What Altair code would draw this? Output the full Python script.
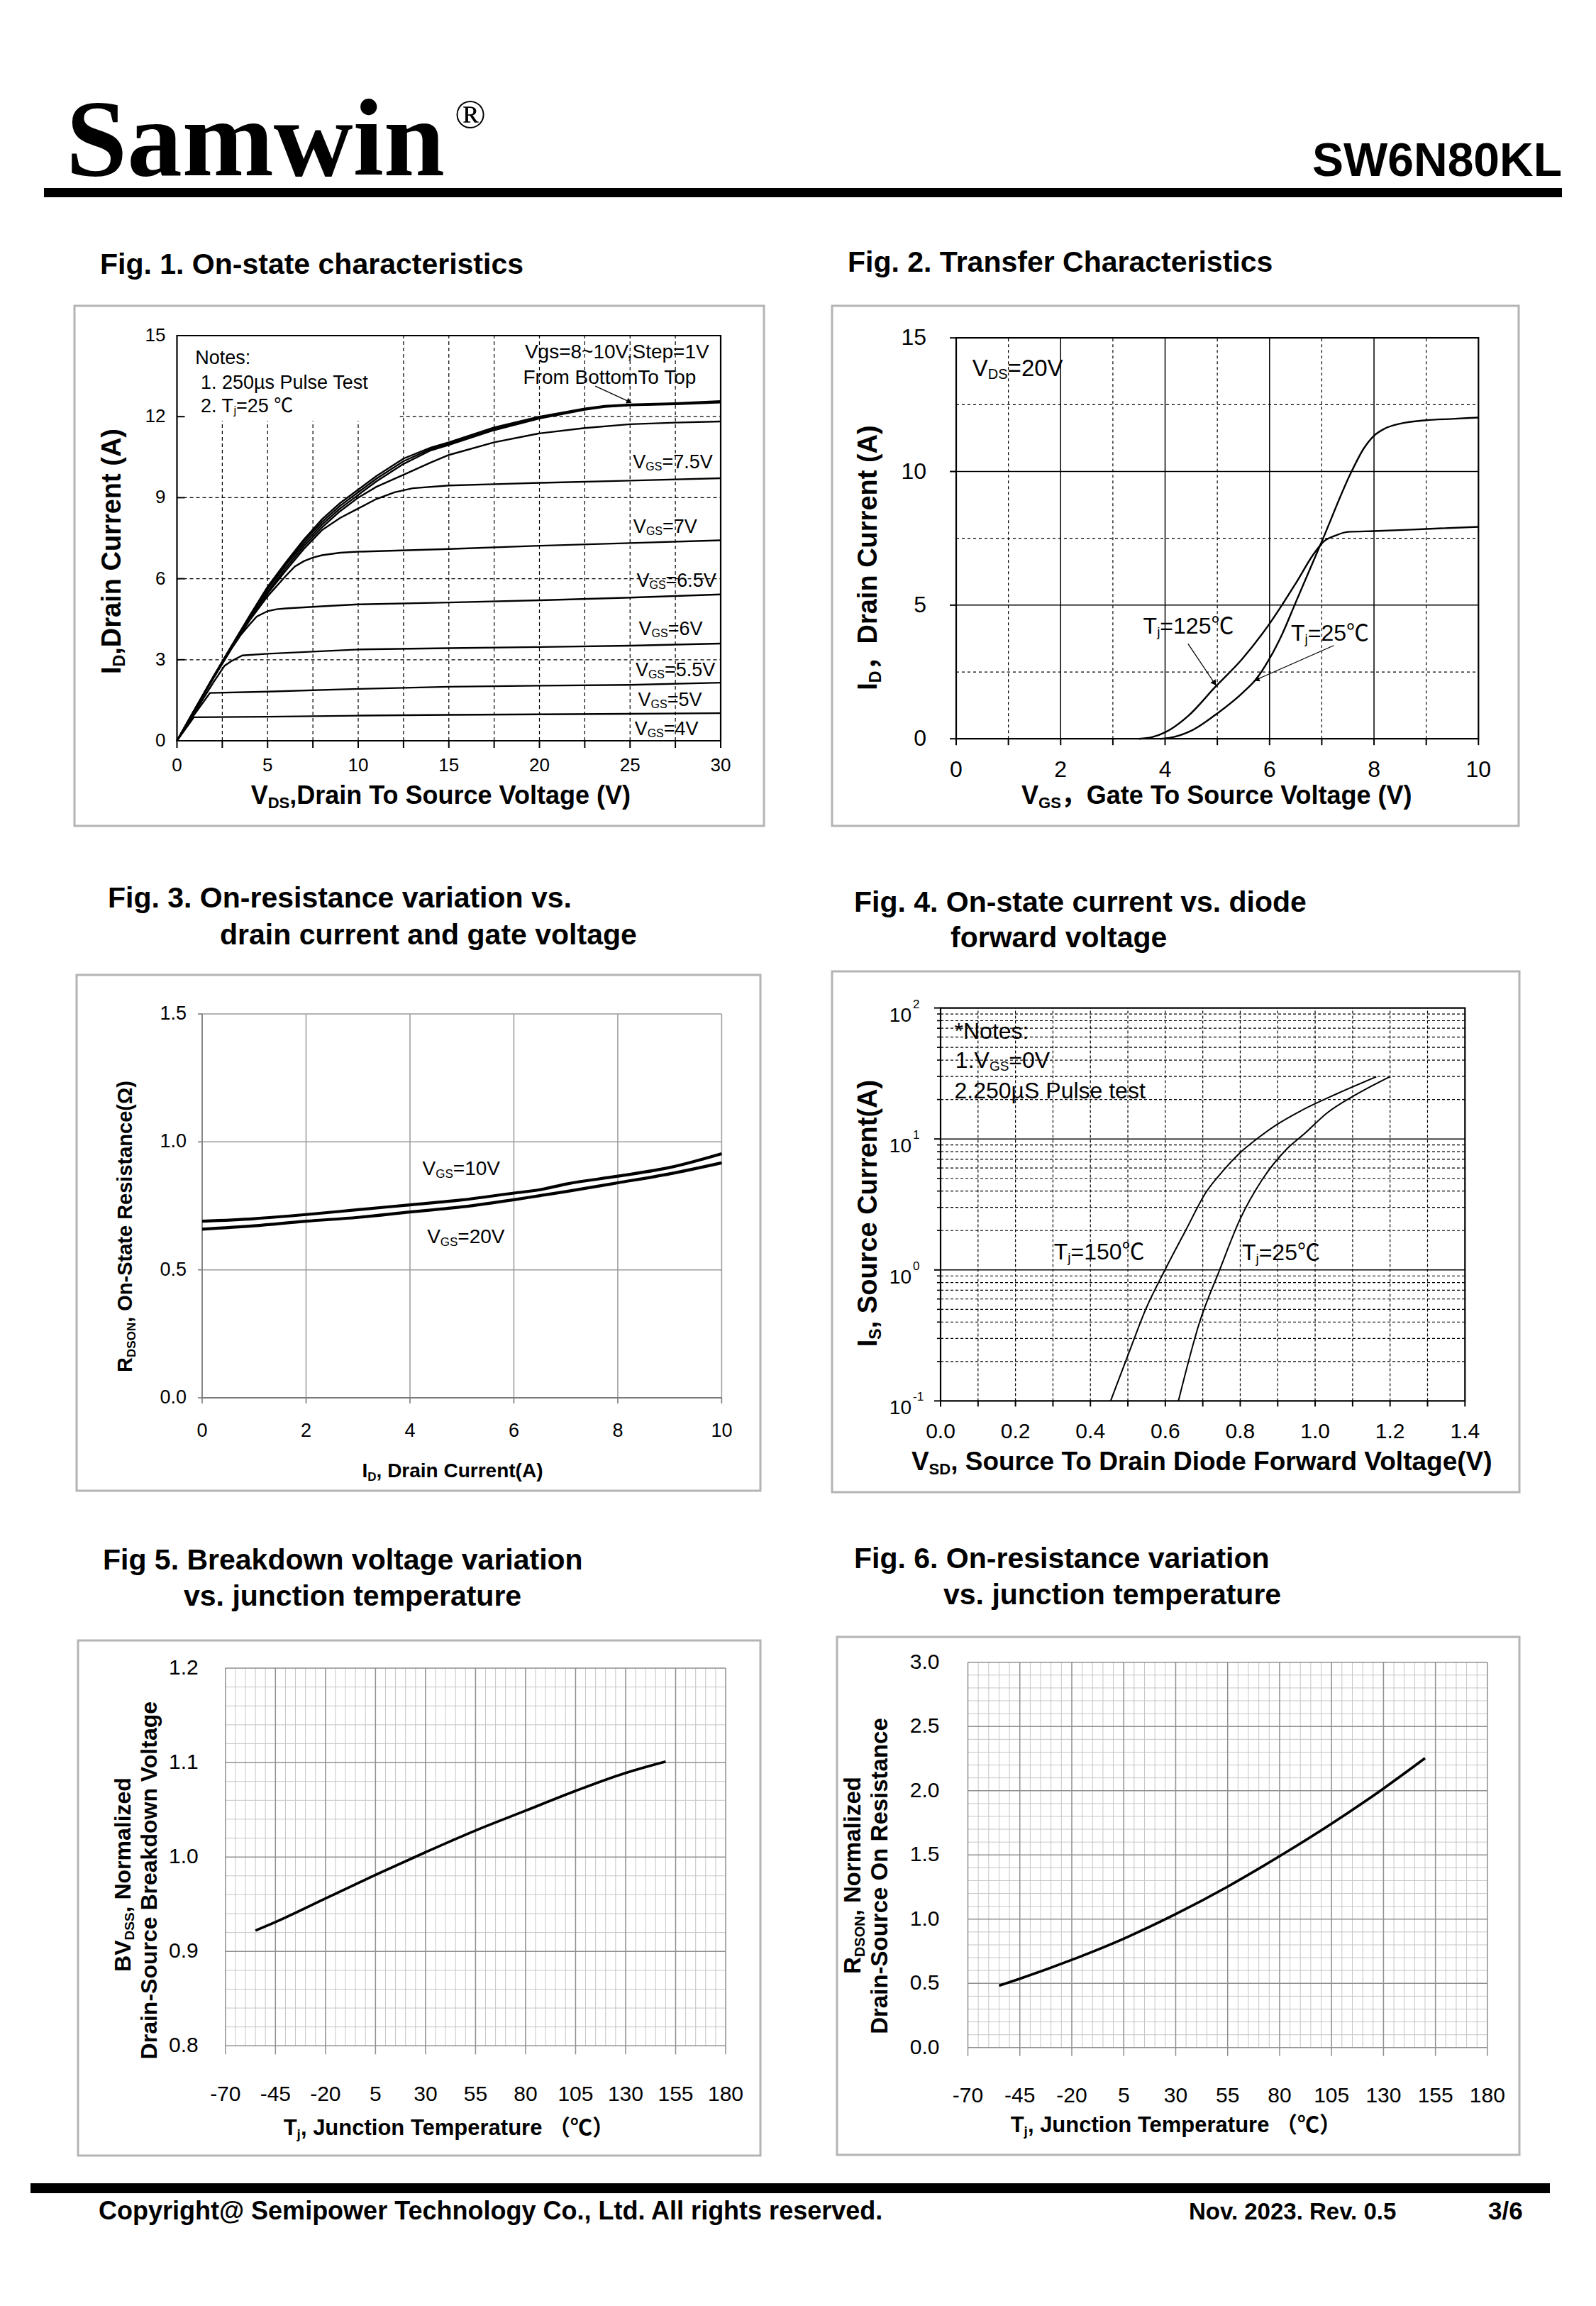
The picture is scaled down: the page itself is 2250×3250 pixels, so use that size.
import math
import altair as alt
import pandas as pd

W, H, M = 2234, 3234, 8
SANS = "Liberation Sans, Arial, Noto Sans CJK SC, sans-serif"
SERIF = "Liberation Serif, Times New Roman, serif"

# ---------------------------------------------------------------- data
# Fig.1  ID (A) vs VDS (V) for each VGS
F1_X_10 = [0, 1, 2, 3, 4, 5, 6, 7, 8, 9, 10, 11, 12.5, 14, 15, 17.5, 20, 22.5, 23.6, 25, 27.5, 30]
F1_Y_10 = [0, 1.18, 2.36, 3.5, 4.62, 5.7, 6.6, 7.45, 8.2, 8.8, 9.3, 9.8, 10.45, 10.85, 11.05, 11.6, 12.0, 12.3, 12.4, 12.45, 12.5, 12.58]
F1_Y_9 = [0, 1.18, 2.36, 3.5, 4.6, 5.65, 6.55, 7.4, 8.1, 8.7, 9.2, 9.7, 10.35, 10.8, 11.0, 11.55, 11.97, 12.28, 12.38, 12.43, 12.48, 12.55]
F1_Y_8 = [0, 1.18, 2.35, 3.48, 4.56, 5.6, 6.5, 7.3, 8.0, 8.6, 9.1, 9.6, 10.25, 10.75, 10.95, 11.5, 11.93, 12.25, 12.36, 12.42, 12.46, 12.52]
F1_X_75 = [0, 1, 2, 3, 4, 5, 6, 7, 8, 9, 10, 11, 12.5, 14, 15, 17.5, 20, 22.5, 25, 27.5, 30]
F1_Y_75 = [0, 1.18, 2.35, 3.47, 4.52, 5.5, 6.4, 7.2, 7.9, 8.5, 9.0, 9.4, 9.85, 10.3, 10.58, 11.05, 11.38, 11.58, 11.72, 11.78, 11.82]
F1_X_7 = [0, 1, 2, 3, 4, 5, 6, 7, 8, 9, 10, 11, 12, 13, 15, 17.5, 20, 25, 30]
F1_Y_7 = [0, 1.18, 2.34, 3.45, 4.5, 5.45, 6.3, 7.1, 7.8, 8.25, 8.6, 8.95, 9.2, 9.35, 9.45, 9.5, 9.55, 9.63, 9.72]
F1_X_65 = [0, 1, 2, 3, 4, 5, 6, 6.5, 7, 7.5, 8, 9, 10, 15, 20, 25, 30]
F1_Y_65 = [0, 1.18, 2.33, 3.42, 4.45, 5.35, 6.1, 6.45, 6.65, 6.78, 6.87, 6.96, 7.0, 7.1, 7.22, 7.32, 7.42]
F1_X_6 = [0, 1, 2, 3, 3.5, 4, 4.4, 5, 5.5, 6, 8, 10, 15, 20, 25, 30]
F1_Y_6 = [0, 1.15, 2.3, 3.4, 3.9, 4.3, 4.6, 4.8, 4.87, 4.9, 4.98, 5.05, 5.12, 5.2, 5.3, 5.42]
F1_X_55 = [0, 1, 2, 2.63, 3.0, 3.61, 5, 10, 15, 20, 25, 30]
F1_Y_55 = [0, 1.08, 2.15, 2.78, 2.95, 3.16, 3.22, 3.38, 3.43, 3.47, 3.52, 3.6]
F1_X_5 = [0, 0.9, 1.82, 5, 10, 15, 20, 25, 30]
F1_Y_5 = [0, 0.92, 1.77, 1.82, 1.92, 2.0, 2.04, 2.07, 2.15]
F1_X_4 = [0, 0.93, 5, 10, 15, 20, 25, 30]
F1_Y_4 = [0, 0.87, 0.89, 0.93, 0.96, 0.98, 1.0, 1.02]
F1_XTICKS = [0, 2.5, 5, 7.5, 10, 12.5, 15, 17.5, 20, 22.5, 25, 27.5, 30]
F1_XLABELS = [0, 5, 10, 15, 20, 25, 30]
F1_YLABELS = [0, 3, 6, 9, 12, 15]

# Fig.2  ID (A) vs VGS (V)
F2_X_25 = [3.9, 4.1, 4.5, 5.0, 5.5, 5.75, 6.0, 6.25, 6.5, 7.0, 7.57, 7.8, 8.0, 8.2, 8.5, 9.0, 9.5, 10.0]
F2_Y_25 = [0, 0.04, 0.3, 0.95, 1.75, 2.25, 3.0, 3.95, 5.1, 7.38, 10.0, 10.85, 11.34, 11.6, 11.79, 11.92, 11.97, 12.02]
F2_X_125 = [3.5, 3.75, 4.0, 4.44, 4.96, 5.47, 6.03, 6.5, 6.84, 7.02, 7.27, 7.5, 8.0, 9.0, 10.0]
F2_Y_125 = [0, 0.06, 0.24, 0.85, 1.94, 2.97, 4.39, 5.81, 6.9, 7.35, 7.61, 7.74, 7.77, 7.85, 7.93]
F2_XTICKS = [0, 1, 2, 3, 4, 5, 6, 7, 8, 9, 10]
F2_XLABELS = [0, 2, 4, 6, 8, 10]
F2_YLABELS = [0, 5, 10, 15]

# Fig.3  RDS(on) vs ID
F3_ID = [0, 1, 2, 3, 4, 5, 6, 6.5, 7, 8, 9, 10]
F3_R_10V = [0.690, 0.700, 0.716, 0.735, 0.754, 0.773, 0.800, 0.813, 0.835, 0.866, 0.900, 0.954]
F3_R_20V = [0.659, 0.672, 0.690, 0.705, 0.726, 0.746, 0.774, 0.790, 0.806, 0.840, 0.875, 0.918]
F3_XLABELS = [0, 2, 4, 6, 8, 10]
F3_YLABELS = [0.0, 0.5, 1.0, 1.5]

# Fig.4  IS (A) vs VSD (V), log scale
F4_X_150 = [0.454, 0.5, 0.548, 0.599, 0.655, 0.709, 0.757, 0.805, 0.852, 0.9, 0.96, 1.056, 1.163]
F4_Y_150 = [0.1, 0.222, 0.503, 1.0, 2.02, 3.93, 5.83, 8.1, 10.4, 13.0, 16.3, 22.0, 29.8]
F4_X_25 = [0.635, 0.691, 0.745, 0.799, 0.858, 0.924, 0.972, 1.032, 1.104, 1.199]
F4_Y_25 = [0.1, 0.395, 1.0, 2.42, 4.86, 8.37, 11.0, 15.8, 21.4, 29.8]
F4_XTICKS = [round(0.1 * i, 1) for i in range(15)]
F4_XLABELS = [round(0.2 * i, 1) for i in range(8)]
F4_YDECADES = [0.1, 1, 10, 100]
F4_YEXPONENTS = ["-1", "0", "1", "2"]
F4_YMINOR = [round(m * d, 3) for d in (0.1, 1, 10) for m in range(2, 10)]

# Fig.5 / Fig.6  vs junction temperature
F56_TJ = [-55, -45, -20, 5, 30, 55, 80, 105, 130, 150]
F5_BV = [0.922, 0.931, 0.956, 0.981, 1.005, 1.028, 1.049, 1.070, 1.089, 1.101]
F6_RDS = [0.482, 0.536, 0.683, 0.848, 1.039, 1.253, 1.490, 1.743, 2.017, 2.253]
F56_XTICKS = list(range(-70, 181, 25))
F56_XMINOR = [v for v in range(-65, 180, 5) if (v + 70) % 25 != 0]
F5_YTICKS = [0.8, 0.9, 1.0, 1.1, 1.2]
F5_YMINOR = [round(0.8 + 0.02 * i, 2) for i in range(1, 20) if i % 5 != 0]
F6_YTICKS = [0.0, 0.5, 1.0, 1.5, 2.0, 2.5, 3.0]
F6_YMINOR = [round(0.1 * i, 1) for i in range(1, 30) if i % 5 != 0]

# ---------------------------------------------------------------- text metrics
_R, _B = {}, {}


def _set(tab, chars, w):
    for c in chars:
        tab[c] = w


_set(_R, "ijl", .222); _set(_R, " !,./:;I[]ft", .278); _set(_R, "r-()", .333); _set(_R, "*", .389)
_set(_R, "cksvxyzJ", .5); _set(_R, "0123456789abdeghnopqu$L?µ_", .556); _set(_R, "=+~<>", .584)
_set(_R, "FTZ", .611); _set(_R, "ABEKPSVXY&", .667); _set(_R, "CDHNRUw", .722); _set(_R, "GOQ", .778)
_set(_R, "mM", .833); _set(_R, "%", .889); _set(_R, "W", .944); _set(_R, "@", 1.015); _set(_R, "Ω", .768)
_set(_B, " ,./Iijl[]", .278); _set(_B, "!:;ft-()", .333); _set(_B, "r*", .389); _set(_B, "z", .5)
_set(_B, "0123456789acekvsxyJ$?µ_", .556); _set(_B, "=+~<>", .584); _set(_B, "bdghnopquFTZL", .611)
_set(_B, "EPSVXY", .667); _set(_B, "ABKCDHNRU", .722); _set(_B, "GOQw", .778); _set(_B, "m", .889)
_set(_B, "M", .833); _set(_B, "W", .944); _set(_B, "@", .975); _set(_B, "Ω", .768)
WIDE = "℃，（）"


def tw(t, size, bold):
    tab = _B if bold else _R
    return size * sum(1.0 if c in WIDE else tab.get(c, .556) for c in t)


ONE = pd.DataFrame({"k": [0]})


def _segs(data, enc, segs, align="left", angle=0, font=SANS):
    ws = [tw(t, s, b) for t, s, b, dy in segs]
    total = sum(ws)
    cur = {"left": 0.0, "center": -total / 2, "right": -total}[align]
    out = []
    for (t, s, b, dy), w in zip(segs, ws):
        props = dict(text=t, font=font, fontSize=s, fontWeight="bold" if b else "normal",
                     align="left", baseline="alphabetic", color="black")
        if abs(cur) > 0.01:
            props["dx"] = round(cur, 2)
        if dy:
            props["dy"] = dy
        if angle:
            props["angle"] = angle
        out.append(alt.Chart(data).mark_text(**props).encode(**enc))
        cur += w
    return out


def page_text(x, y, segs, align="left", angle=0, font=SANS):
    return _segs(ONE, dict(x=alt.value(x - M), y=alt.value(y - M)), segs, align, angle, font)


def page_rect(x0, y0, x1, y1, **props):
    return alt.Chart(ONE).mark_rect(**props).encode(
        x=alt.value(x0 - M), x2=alt.value(x1 - M), y=alt.value(y0 - M), y2=alt.value(y1 - M))


class Panel:
    def __init__(self, xdom, x0, x1, ydom, y0, y1, ylog=False):
        self.sx = alt.Scale(domain=xdom, range=[x0 - M, x1 - M], nice=False, zero=False)
        if ylog:
            self.sy = alt.Scale(type="log", domain=ydom, range=[y0 - M, y1 - M], nice=False)
            self.ky = None
        else:
            self.sy = alt.Scale(domain=ydom, range=[y0 - M, y1 - M], nice=False, zero=False)
            self.ky = (y0 - y1) / (ydom[1] - ydom[0])
        self.kx = (x1 - x0) / (xdom[1] - xdom[0])
        self.layers = []

    def X(self, f):
        return alt.X(f + ":Q", scale=self.sx, axis=None)

    def Y(self, f):
        return alt.Y(f + ":Q", scale=self.sy, axis=None)

    def vr(self, xs, ya, yb, color="black", w=1.2, dash=None):
        d = pd.DataFrame({"x": xs, "ya": ya, "yb": yb})
        p = dict(color=color, strokeWidth=w)
        if dash:
            p["strokeDash"] = dash
        self.layers.append(alt.Chart(d).mark_rule(**p).encode(
            x=self.X("x"), y=self.Y("ya"), y2=alt.Y2("yb")))

    def hr(self, ys, xa, xb, color="black", w=1.2, dash=None):
        d = pd.DataFrame({"y": ys, "xa": xa, "xb": xb})
        p = dict(color=color, strokeWidth=w)
        if dash:
            p["strokeDash"] = dash
        self.layers.append(alt.Chart(d).mark_rule(**p).encode(
            y=self.Y("y"), x=self.X("xa"), x2=alt.X2("xb")))

    def frame(self, xa, xb, ya, yb, w=2.0):
        d = pd.DataFrame({"xa": [xa], "xb": [xb], "ya": [ya], "yb": [yb]})
        self.layers.append(alt.Chart(d).mark_rect(fillOpacity=0, stroke="black", strokeWidth=w).encode(
            x=self.X("xa"), x2=alt.X2("xb"), y=self.Y("ya"), y2=alt.Y2("yb")))

    def ticks_x(self, values, base, length, color="black", w=1.6):
        d = pd.DataFrame({"x": values, "y": base})
        self.layers.append(alt.Chart(d).mark_tick(
            orient="vertical", size=length, thickness=w, color=color, opacity=1,
            yOffset=length / 2).encode(x=self.X("x"), y=self.Y("y")))

    def ticks_y(self, values, base, length, color="black", w=1.6, inward=False):
        d = pd.DataFrame({"y": values, "x": base})
        self.layers.append(alt.Chart(d).mark_tick(
            orient="horizontal", size=length, thickness=w, color=color, opacity=1,
            xOffset=(length / 2 if inward else -length / 2)).encode(x=self.X("x"), y=self.Y("y")))

    def labels_x(self, values, labels, base, pad, size):
        d = pd.DataFrame({"x": values, "y": base, "t": labels})
        self.layers.append(alt.Chart(d).mark_text(
            align="center", baseline="top", dy=pad, fontSize=size, font=SANS, color="black").encode(
            x=self.X("x"), y=self.Y("y"), text=alt.Text("t:N")))

    def labels_y(self, values, labels, base, pad, size):
        d = pd.DataFrame({"y": values, "x": base, "t": labels})
        self.layers.append(alt.Chart(d).mark_text(
            align="right", baseline="middle", dx=-pad, fontSize=size, font=SANS, color="black").encode(
            x=self.X("x"), y=self.Y("y"), text=alt.Text("t:N")))

    def curves(self, series, w, interp="linear"):
        rows = []
        for name, xs, ys in series:
            for i, (a, b) in enumerate(zip(xs, ys)):
                rows.append({"s": name, "x": a, "y": b, "o": i})
        d = pd.DataFrame(rows)
        self.layers.append(alt.Chart(d).mark_line(color="black", strokeWidth=w, interpolate=interp).encode(
            x=self.X("x"), y=self.Y("y"), detail="s:N", order="o:Q"))

    def text(self, x, y, segs, align="left"):
        d = pd.DataFrame({"x": [x], "y": [y]})
        self.layers += _segs(d, dict(x=self.X("x"), y=self.Y("y")), segs, align)

    def arrow(self, x0, y0, x1, y1, w=1.4, size=90):
        d = pd.DataFrame({"x": [x0], "y": [y0], "x2": [x1], "y2": [y1]})
        self.layers.append(alt.Chart(d).mark_rule(color="black", strokeWidth=w).encode(
            x=self.X("x"), y=self.Y("y"), x2=alt.X2("x2"), y2=alt.Y2("y2")))
        dxp, dyp = (x1 - x0) * self.kx, -(y1 - y0) * self.ky
        n = math.hypot(dxp, dyp)
        ang = math.degrees(math.atan2(dxp, -dyp)) % 360
        back = math.sqrt(size) * 0.35
        hx = x1 - dxp / n * back / self.kx
        hy = y1 + dyp / n * back / self.ky
        h = pd.DataFrame({"x": [hx], "y": [hy]})
        self.layers.append(alt.Chart(h).mark_point(shape="triangle-up", filled=True, color="black",
                                                   opacity=1, size=size, angle=round(ang, 1)).encode(
            x=self.X("x"), y=self.Y("y")))

    def chart(self):
        return alt.layer(*self.layers)


def sub(main, s, size, bold=False, tail="", ssize=None, dy=None):
    ss = ssize or round(size * 0.6)
    d = dy if dy is not None else round(size * 0.17)
    segs = [(main, size, bold, 0), (s, ss, bold, d)]
    if tail:
        segs.append((tail, size, bold, 0))
    return segs


def fmt1(vals):
    return ["%.1f" % v for v in vals]


def fmt0(vals):
    return ["%d" % v for v in vals]


layers = []

# ---------------------------------------------------------------- page furniture
BOX = dict(fillOpacity=0, stroke="#b4b4b4", strokeWidth=3)
for bx in [(105, 431, 1077, 1164), (1173, 431, 2141, 1164), (108, 1374, 1072, 2101),
           (1173, 1369, 2142, 2103), (110, 2312, 1072, 3038), (1180, 2307, 2142, 3037)]:
    layers.append(page_rect(*bx, **BOX))
layers.append(page_rect(62, 265, 2202, 278, color="black"))
layers.append(page_rect(43, 3077, 2185, 3091, color="black"))

layers += page_text(93, 247, [("Samwin", 155, True, 0)], font=SERIF)
layers += page_text(641, 180, [("®", 58, False, 0)], font=SERIF)
layers += page_text(2202, 248, [("SW6N80KL", 66, True, 0)], align="right")

layers += page_text(139, 3128, [("Copyright@ Semipower Technology Co., Ltd. All rights reserved.", 36, True, 0)])
layers += page_text(1676, 3128, [("Nov. 2023. Rev. 0.5", 33, True, 0)])
layers += page_text(2098, 3128, [("3/6", 35, True, 0)])

TF = 41
for x, y, t in [(141, 386, "Fig. 1. On-state characteristics"),
                (1195, 383, "Fig. 2. Transfer Characteristics"),
                (152, 1279, "Fig. 3. On-resistance variation vs."),
                (310, 1331, "drain current and gate voltage"),
                (1204, 1285, "Fig. 4. On-state current vs. diode"),
                (1340, 1335, "forward voltage"),
                (145, 2212, "Fig 5. Breakdown voltage variation"),
                (259, 2263, "vs. junction temperature"),
                (1204, 2210, "Fig. 6. On-resistance variation"),
                (1330, 2261, "vs. junction temperature")]:
    layers += page_text(x, y, [(t, TF, True, 0)])

# axis titles
layers += page_text(170, 777, sub("I", "D", 38, True, ",Drain Current (A)"), "center", 270)
layers += page_text(624, 1133, sub("V", "DS", 36, True, ",Drain To Source Voltage (V)"), "center")
layers += page_text(1236, 786, sub("I", "D", 38, True, "，Drain Current (A)"), "center", 270)
layers += page_text(1718, 1133, sub("V", "GS", 36, True, "，Gate To Source Voltage (V)"), "center")
layers += page_text(186, 1729, sub("R", "DSON", 29, True, ", On-State Resistance(Ω)"), "center", 270)
layers += page_text(638, 2082, sub("I", "D", 28, True, ", Drain Current(A)"), "center")
layers += page_text(1236, 1710, sub("I", "S", 38, True, ", Source Current(A)"), "center", 270)
layers += page_text(1697, 2072, sub("V", "SD", 37, True, ", Source To Drain Diode Forward Voltage(V)"), "center")
layers += page_text(184, 2642, sub("BV", "DSS", 32, True, ", Normalized"), "center", 270)
layers += page_text(221, 2649, [("Drain-Source Breakdown Voltage", 32, True, 0)], "center", 270)
layers += page_text(634, 3009, sub("T", "j", 31, True, ", Junction Temperature （℃）"), "center")
layers += page_text(1213, 2643, sub("R", "DSON", 33, True, ", Normalized"), "center", 270)
layers += page_text(1251, 2644, [("Drain-Source On Resistance", 33, True, 0)], "center", 270)
layers += page_text(1659, 3005, sub("T", "j", 31, True, ", Junction Temperature （℃）"), "center")

# ---------------------------------------------------------------- Fig.1
p1 = Panel([0, 30], 249.5, 1016, [0, 15], 1044, 473)
DASH = [5, 4]
p1.vr([12.5, 15, 17.5, 20, 22.5, 25, 27.5], 0, 15, dash=DASH)
p1.vr([2.5, 5, 7.5, 10], 0, 11.85, dash=DASH)
p1.hr([3, 6, 9], 0, 30, dash=DASH)
p1.hr([12], 12.3, 30, dash=DASH)
p1.ticks_y([3, 6, 9, 12], 0, 11, w=2, inward=True)
p1.ticks_x(F1_XTICKS, 0, 10, w=2)
p1.frame(0, 30, 0, 15, w=2.2)
p1.labels_x(F1_XLABELS, fmt0(F1_XLABELS), 0, 22, 26)
p1.labels_y(F1_YLABELS, fmt0(F1_YLABELS), 0, 16, 26)
p1.curves([("4", F1_X_4, F1_Y_4), ("5", F1_X_5, F1_Y_5), ("55", F1_X_55, F1_Y_55),
           ("6", F1_X_6, F1_Y_6), ("65", F1_X_65, F1_Y_65), ("7", F1_X_7, F1_Y_7),
           ("75", F1_X_75, F1_Y_75), ("8", F1_X_10, F1_Y_8), ("9", F1_X_10, F1_Y_9),
           ("10", F1_X_10, F1_Y_10)], 2.4)
for lab, x, y in [("=7.5V", 29.56, 10.08), ("=7V", 28.7, 7.70), ("=6.5V", 29.76, 5.71),
                  ("=6V", 29.0, 3.91), ("=5.5V", 29.7, 2.40), ("=5V", 28.96, 1.30), ("=4V", 28.77, 0.22)]:
    p1.text(x, y, sub("V", "GS", 27, False, lab, 16, 3), "right")
p1.text(29.46, 14.15, [("Vgs=8~10V,Step=1V", 28, False, 0)], "right")
p1.text(19.1, 13.22, [("From BottomTo Top", 28, False, 0)])
p1.text(1.01, 13.96, [("Notes:", 27, False, 0)])
p1.text(1.31, 13.04, [("1. 250µs  Pulse Test", 27, False, 0)])
p1.text(1.31, 12.15, sub("2. T", "j", 27, False, "=25 ℃", 16, 3))
p1.arrow(23.08, 13.13, 25.06, 12.52, w=1.3, size=70)
layers.append(p1.chart())

# ---------------------------------------------------------------- Fig.2
p2 = Panel([0, 10], 1348, 2084.3, [0, 15], 1041.2, 476.2)
p2.vr([2, 4, 6, 8], 0, 15, w=1.5)
p2.vr([1, 3, 5, 7, 9], 0, 15, dash=[4, 4])
p2.hr([5, 10], 0, 10, w=1.5)
p2.hr([2.5, 7.5, 12.5], 0, 10, dash=[4, 4])
p2.ticks_x(F2_XTICKS, 0, 9, w=2)
p2.ticks_y(F2_YLABELS, 0, 9, w=2)
p2.frame(0, 10, 0, 15, w=2.2)
p2.labels_x(F2_XLABELS, fmt0(F2_XLABELS), 0, 29, 32)
p2.labels_y(F2_YLABELS, fmt0(F2_YLABELS), 0, 42, 32)
p2.curves([("25", F2_X_25, F2_Y_25), ("125", F2_X_125, F2_Y_125)], 2.4, interp="monotone")
p2.text(0.31, 13.56, sub("V", "DS", 33, False, "=20V", 20, 4))
p2.text(3.58, 3.94, sub("T", "j", 32, False, "=125℃", 19, 4))
p2.text(6.41, 3.68, sub("T", "j", 32, False, "=25℃", 19, 4))
p2.arrow(4.44, 3.55, 4.97, 2.01, w=1.3, size=80)
p2.arrow(7.23, 3.49, 5.71, 2.18, w=1.3, size=80)
layers.append(p2.chart())

# ---------------------------------------------------------------- Fig.3
p3 = Panel([0, 10], 285, 1017.4, [0, 1.5], 1970, 1429)
GR, AX = "#9a9a9a", "#7a7a7a"
p3.vr([2, 4, 6, 8, 10], 0, 1.5, color=GR, w=1.5)
p3.hr([0.5, 1.0, 1.5], 0, 10, color=GR, w=1.5)
p3.vr([0], 0, 1.5, color=AX, w=1.8)
p3.hr([0], 0, 10, color=AX, w=1.8)
p3.ticks_x(F3_XLABELS, 0, 8, color=AX, w=1.6)
p3.ticks_y(F3_YLABELS, 0, 6, color=AX, w=1.6)
p3.labels_x(F3_XLABELS, fmt0(F3_XLABELS), 0, 34, 27)
p3.labels_y(F3_YLABELS, fmt1(F3_YLABELS), 0, 22, 27)
p3.curves([("10", F3_ID, F3_R_10V), ("20", F3_ID, F3_R_20V)], 4.2, interp="monotone")
p3.text(4.24, 0.871, sub("V", "GS", 28, False, "=10V", 17, 4))
p3.text(4.33, 0.605, sub("V", "GS", 28, False, "=20V", 17, 4))
layers.append(p3.chart())

# ---------------------------------------------------------------- Fig.4
p4 = Panel([0, 1.4], 1326, 2065.3, [0.1, 100], 1974.4, 1420.6, ylog=True)
p4.vr([round(0.1 * i, 1) for i in range(1, 14)], 0.1, 100, dash=[4, 3], w=1.2)
p4.hr(F4_YMINOR, 0, 1.4, dash=[4, 3], w=1.2)
p4.hr([1, 10], 0, 1.4, w=1.5)
p4.ticks_x(F4_XTICKS, 0.1, 8, w=2)
p4.ticks_y(F4_YMINOR, 0, 5, w=1.6)
p4.ticks_y(F4_YDECADES, 0, 9, w=2)
p4.frame(0, 1.4, 0.1, 100, w=2.2)
p4.labels_x(F4_XLABELS, fmt1(F4_XLABELS), 0.1, 29, 30)
for v, e in zip(F4_YDECADES, F4_YEXPONENTS):
    d = pd.DataFrame({"x": [0], "y": [v]})
    p4.layers.append(alt.Chart(d).mark_text(text="10", align="right", baseline="alphabetic", dx=-41, dy=19,
                                            fontSize=28, font=SANS, color="black").encode(
        x=p4.X("x"), y=p4.Y("y")))
    p4.layers.append(alt.Chart(d).mark_text(text=e, align="left", baseline="alphabetic", dx=-39, dy=0,
                                            fontSize=17, font=SANS, color="black").encode(
        x=p4.X("x"), y=p4.Y("y")))
p4.curves([("150", F4_X_150, F4_Y_150), ("25", F4_X_25, F4_Y_25)], 2.0, interp="monotone")
p4.text(0.037, 58.0, [("*Notes:", 32, False, 0)])
p4.text(0.0395, 34.7, sub("1.V", "GS", 32, False, "=0V", 19, 4))
p4.text(0.037, 20.4, [("2.250µS Pulse test", 32, False, 0)])
p4.text(0.3025, 1.209, sub("T", "j", 32, False, "=150℃", 19, 4))
p4.text(0.8046, 1.187, sub("T", "j", 32, False, "=25℃", 19, 4))
layers.append(p4.chart())

# ---------------------------------------------------------------- Fig.5
MIN_C, MAJ_C = "#c6c6c6", "#8f8f8f"
p5 = Panel([-70, 180], 317.8, 1023, [0.8, 1.2], 2883.3, 2351)
p5.vr(F56_XMINOR, 0.8, 1.2, color=MIN_C, w=1.0)
p5.hr(F5_YMINOR, -70, 180, color=MIN_C, w=1.0)
p5.vr(F56_XTICKS, 0.8, 1.2, color=MAJ_C, w=1.5)
p5.hr(F5_YTICKS, -70, 180, color=MAJ_C, w=1.5)
p5.ticks_x(F56_XTICKS, 0.8, 12, color=MAJ_C, w=1.5)
p5.labels_x(F56_XTICKS, fmt0(F56_XTICKS), 0.8, 54, 30)
p5.labels_y(F5_YTICKS, fmt1(F5_YTICKS), -70, 38, 30)
p5.curves([("bv", F56_TJ, F5_BV)], 3.6, interp="monotone")
layers.append(p5.chart())

# ---------------------------------------------------------------- Fig.6
p6 = Panel([-70, 180], 1364.5, 2096.9, [0, 3], 2885.8, 2342.7)
p6.vr(F56_XMINOR, 0, 3, color=MIN_C, w=1.0)
p6.hr(F6_YMINOR, -70, 180, color=MIN_C, w=1.0)
p6.vr(F56_XTICKS, 0, 3, color=MAJ_C, w=1.5)
p6.hr(F6_YTICKS, -70, 180, color=MAJ_C, w=1.5)
p6.ticks_x(F56_XTICKS, 0, 12, color=MAJ_C, w=1.5)
p6.labels_x(F56_XTICKS, fmt0(F56_XTICKS), 0, 53, 30)
p6.labels_y(F6_YTICKS, fmt1(F6_YTICKS), -70, 40, 30)
p6.curves([("rds", F56_TJ, F6_RDS)], 3.6, interp="monotone")
layers.append(p6.chart())

chart = alt.layer(*layers).properties(
    width=W, height=H, padding=0, background="white",
    autosize=alt.AutoSizeParams(type="none"),
).resolve_scale(x="independent", y="independent").configure_view(stroke=None)

chart.save("out.html", embed_options={"renderer": "svg", "actions": False})
